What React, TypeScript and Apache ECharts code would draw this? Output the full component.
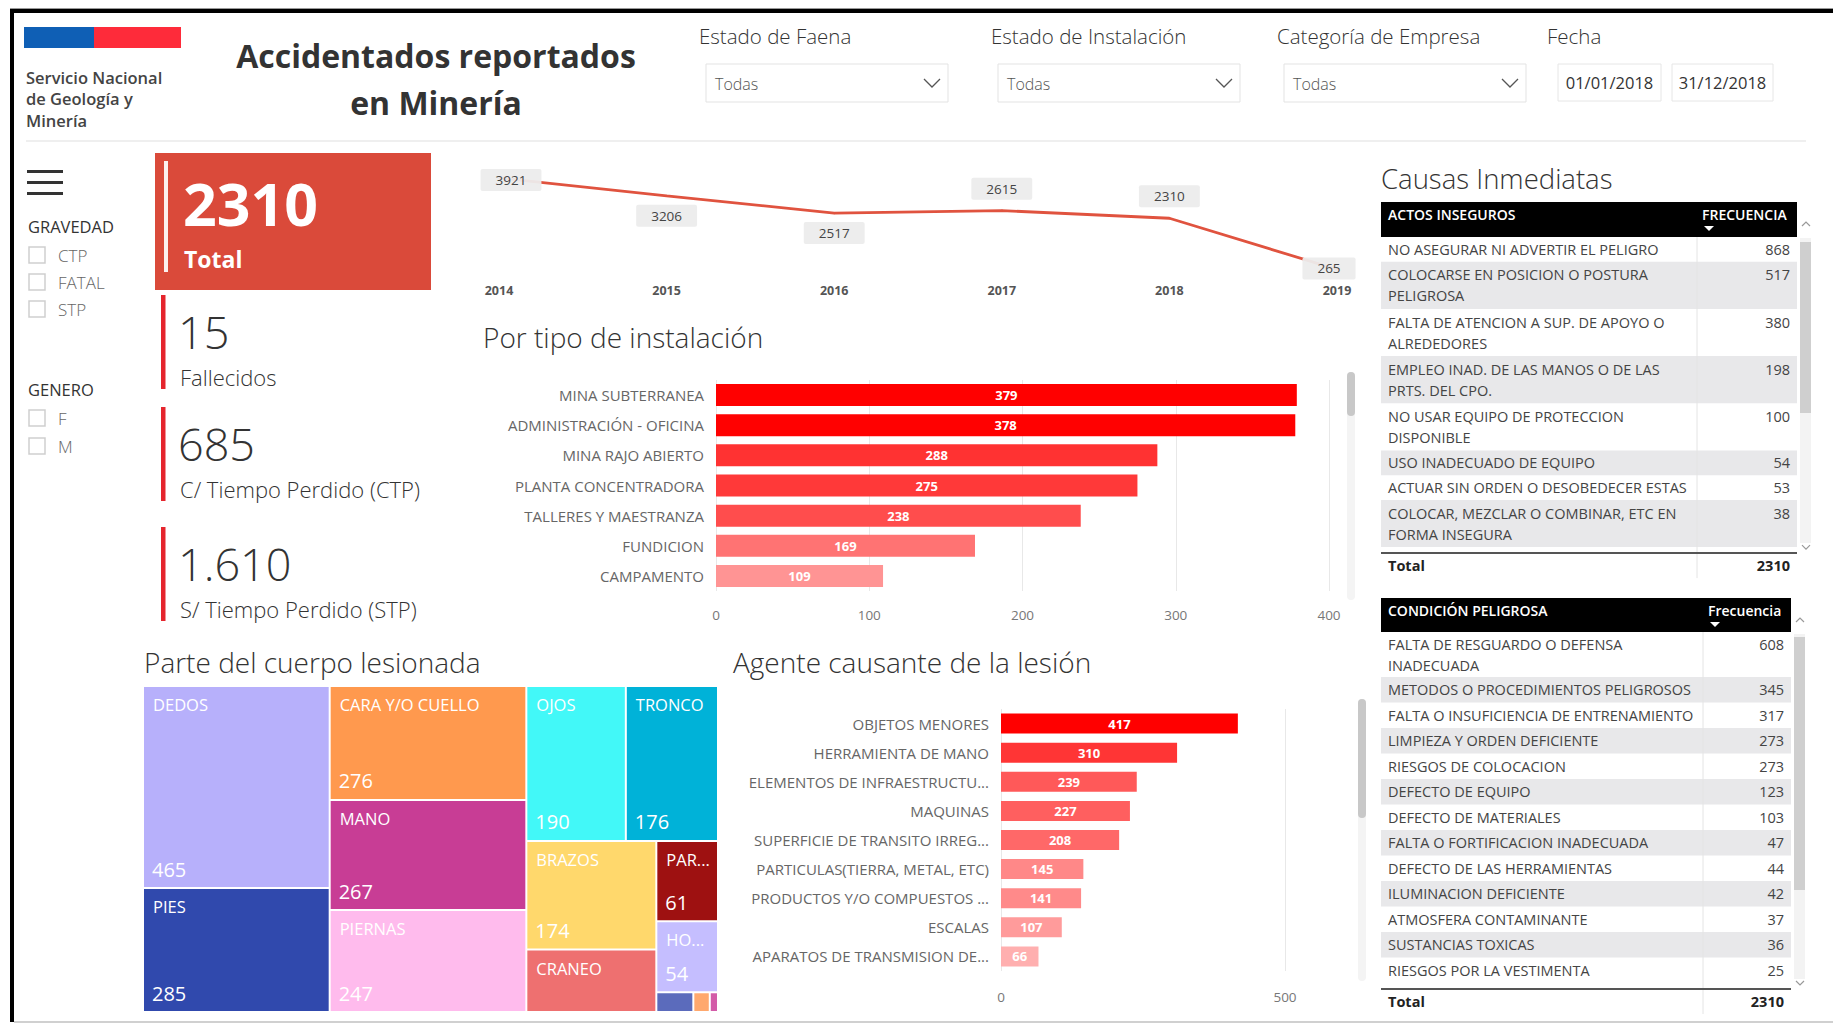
import React, { useEffect, useRef } from 'react';
import * as echarts from 'echarts';

// ---------------- DATA ----------------
const orgLines = ['Servicio Nacional', 'de Geología y', 'Minería'];
const titleLines = ['Accidentados reportados', 'en Minería'];
const filterTitles = ['Estado de Faena', 'Estado de Instalación', 'Categoría de Empresa'];
const filterValue = 'Todas';
const fechaTitle = 'Fecha';
const fechaDesde = '01/01/2018';
const fechaHasta = '31/12/2018';

const gravedadTitle = 'GRAVEDAD';
const gravedadOpts = ['CTP', 'FATAL', 'STP'];
const generoTitle = 'GENERO';
const generoOpts = ['F', 'M'];

const kpiTotal = 2310;
const kpiTotalLabel = 'Total';
const kpiValues = ['15', '685', '1.610'];
const kpiLabels = ['Fallecidos', 'C/ Tiempo Perdido (CTP)', 'S/ Tiempo Perdido (STP)'];

const years = ['2014', '2015', '2016', '2017', '2018', '2019'];
const yearTotals = [3921, 3206, 2517, 2615, 2310, 265];

const instalacionTitle = 'Por tipo de instalación';
const instalacionCats = ['MINA SUBTERRANEA', 'ADMINISTRACIÓN - OFICINA', 'MINA RAJO ABIERTO', 'PLANTA CONCENTRADORA', 'TALLERES Y MAESTRANZA', 'FUNDICION', 'CAMPAMENTO'];
const instalacionVals = [379, 378, 288, 275, 238, 169, 109];
const instalacionMax = 400;
const instalacionStep = 100;

const agenteTitle = 'Agente causante de la lesión';
const agenteCats = ['OBJETOS MENORES', 'HERRAMIENTA DE MANO', 'ELEMENTOS DE INFRAESTRUCTU...', 'MAQUINAS', 'SUPERFICIE DE TRANSITO IRREG...', 'PARTICULAS(TIERRA, METAL, ETC)', 'PRODUCTOS Y/O COMPUESTOS ...', 'ESCALAS', 'APARATOS DE TRANSMISION DE...'];
const agenteVals = [417, 310, 239, 227, 208, 145, 141, 107, 66];
const agenteMax = 500;
const agenteStep = 500;

const cuerpoTitle = 'Parte del cuerpo lesionada';
const cuerpoNames = ['DEDOS', 'PIES', 'CARA Y/O CUELLO', 'MANO', 'PIERNAS', 'OJOS', 'TRONCO', 'BRAZOS', 'CRANEO', 'PARTES MULTIPLES', 'HOMBROS', 'ABDOMEN', 'CADERA', 'CUELLO'];
const cuerpoVals = [465, 285, 276, 267, 247, 190, 176, 174, 100, 61, 54, 9, 4, 2];

const causasTitle = 'Causas Inmediatas';
const actosHeader = ['ACTOS INSEGUROS', 'FRECUENCIA'];
const actosNames = [
  'NO ASEGURAR NI ADVERTIR EL PELIGRO',
  'COLOCARSE EN POSICION O POSTURA\nPELIGROSA',
  'FALTA DE ATENCION A SUP. DE APOYO O\nALREDEDORES',
  'EMPLEO INAD. DE LAS MANOS O DE LAS\nPRTS. DEL CPO.',
  'NO USAR EQUIPO DE PROTECCION\nDISPONIBLE',
  'USO INADECUADO DE EQUIPO',
  'ACTUAR SIN ORDEN O DESOBEDECER ESTAS',
  'COLOCAR, MEZCLAR O COMBINAR, ETC EN\nFORMA INSEGURA',
];
const actosValues = [868, 517, 380, 198, 100, 54, 53, 38];

const condHeader = ['CONDICIÓN PELIGROSA', 'Frecuencia'];
const condNames = [
  'FALTA DE RESGUARDO O DEFENSA\nINADECUADA',
  'METODOS O PROCEDIMIENTOS PELIGROSOS',
  'FALTA O INSUFICIENCIA DE ENTRENAMIENTO',
  'LIMPIEZA Y ORDEN DEFICIENTE',
  'RIESGOS DE COLOCACION',
  'DEFECTO DE EQUIPO',
  'DEFECTO DE MATERIALES',
  'FALTA O FORTIFICACION INADECUADA',
  'DEFECTO DE LAS HERRAMIENTAS',
  'ILUMINACION DEFICIENTE',
  'ATMOSFERA CONTAMINANTE',
  'SUSTANCIAS TOXICAS',
  'RIESGOS POR LA VESTIMENTA',
];
const condValues = [608, 345, 317, 273, 273, 123, 103, 47, 44, 42, 37, 36, 25];
const totalLabel = 'Total';

// ---------------- STYLES ----------------
const FONT = "'Open Sans', 'Noto Sans', 'DejaVu Sans', sans-serif";
const cuerpoColors = ['#B7B0FB', '#3049AD', '#FF994E', '#C83D95', '#FFBBED', '#42F8F8', '#00B2D8', '#FFD86C', '#EE7070', '#9E1111', '#C5BEFF', '#5B6BBC', '#FFA86D', '#D35BA8'];
const lineLabelPos: any[] = [
  { position: 'inside', offset: [12, 2] },
  { position: 'bottom', distance: 8 },
  { position: 'bottom', distance: 8 },
  { position: 'top', distance: 10 },
  { position: 'top', distance: 10 },
  { position: 'inside', offset: [-8, -1] },
];

function redShade(v: number, max: number) {
  const gb = Math.round(208 * (max - v) / max);
  return `rgb(255,${gb},${gb})`;
}

function txt(x: number, y: number, text: string, o: any = {}) {
  const style: any = {
    text,
    fill: o.fill ?? '#333',
    fontSize: o.size ?? 14,
    fontFamily: o.family ?? FONT,
    fontWeight: o.weight ?? 'normal',
    align: o.align ?? 'left',
    textAlign: o.align ?? 'left',
    verticalAlign: o.va ?? 'middle',
    textVerticalAlign: o.va ?? 'middle',
  };
  if (o.lh) style.lineHeight = o.lh;
  return { type: 'text', x, y, silent: true, style };
}
function rect(x: number, y: number, w: number, h: number, fill: string, extra: any = {}) {
  return { type: 'rect', silent: true, shape: { x, y, width: w, height: h, r: extra.r ?? 0 }, style: { fill, stroke: extra.stroke ?? null, lineWidth: extra.lw ?? 0 } };
}
function line(x1: number, y1: number, x2: number, y2: number, stroke: string, lw = 1) {
  return { type: 'line', silent: true, shape: { x1, y1, x2, y2 }, style: { stroke, lineWidth: lw } };
}
function pline(points: number[][], stroke: string, lw = 1.2) {
  return { type: 'polyline', silent: true, shape: { points }, style: { stroke, lineWidth: lw, fill: null } };
}

function buildTable(cfg: any) {
  const out: any[] = [];
  const lh = 21;
  const fs = 14.5;
  out.push(rect(cfg.x, cfg.top, cfg.w, cfg.headH, '#000'));
  out.push(txt(cfg.x + 7, cfg.top + 12, cfg.h1, { fill: '#fff', size: 14, weight: 600 }));
  out.push(txt(cfg.sep + 5, cfg.top + 12, cfg.h2, { fill: '#fff', size: 14, weight: 600 }));
  const tx = cfg.sep + 12, ty = cfg.top + 26;
  out.push({ type: 'polygon', silent: true, shape: { points: [[tx - 5, ty - 2], [tx + 5, ty - 2], [tx, ty + 3]] }, style: { fill: '#fff' } });
  let y = cfg.top + cfg.headH;
  const bodyTop = y;
  cfg.names.forEach((n: string, i: number) => {
    const lines = n.split('\n').length;
    const h = lines > 1 ? cfg.double : cfg.single;
    if (i % 2 === 1) out.push(rect(cfg.x, y, cfg.w, h, '#E8E8EA'));
    const pad = (h - lines * lh) / 2;
    out.push(txt(cfg.x + 7, y + pad, n, { va: 'top', lh, size: fs, fill: '#444' }));
    out.push(txt(cfg.valRight, y + pad, String(cfg.values[i]), { va: 'top', lh, size: fs, fill: '#444', align: 'right' }));
    y += h;
  });
  const lineY = y + 5;
  out.push(line(cfg.sep, bodyTop, cfg.sep, lineY + 26, '#e4e4e4', 1));
  out.push(rect(cfg.x, lineY, cfg.w, 2, '#555'));
  out.push(txt(cfg.x + 7, lineY + 13, cfg.totalLabel, { weight: 'bold', size: fs, fill: '#222' }));
  out.push(txt(cfg.valRight, lineY + 13, String(cfg.total), { weight: 'bold', size: fs, fill: '#222', align: 'right' }));
  // scrollbar
  out.push(rect(cfg.x + cfg.w + 3, cfg.top + 36, 11, y - cfg.top - 40, '#f3f3f3'));
  out.push(rect(cfg.x + cfg.w + 3, cfg.thumbTop, 11, cfg.thumbH, '#cfcfcf'));
  const ax = cfg.x + cfg.w + 9;
  out.push(pline([[ax - 4, cfg.top + 24], [ax, cfg.top + 20], [ax + 4, cfg.top + 24]], '#999'));
  out.push(pline([[ax - 4, y - 2], [ax, y + 2], [ax + 4, y - 2]], '#999'));
  return out;
}

function buildGraphics() {
  const el: any[] = [];
  // page frame
  el.push(rect(10, 8, 1823, 1, '#999'));
  el.push(rect(10, 9, 1823, 4, '#000'));
  el.push(rect(10, 9, 4, 1013, '#000'));
  el.push(rect(14, 1021, 1819, 2, '#d0d0d0'));

  // header
  el.push(rect(24, 27, 70, 21, '#0F5FB5'));
  el.push(rect(94, 27, 87, 21, '#FE2B3A'));
  orgLines.forEach((t, i) => el.push(txt(26, 77 + i * 21.5, t, { size: 16.5, weight: 600, fill: '#444' })));
  titleLines.forEach((t, i) => el.push(txt(436, 55 + i * 47, t, { size: 32, weight: 'bold', fill: '#333', align: 'center' })));

  const fx = [699, 991, 1277];
  filterTitles.forEach((t, i) => {
    el.push(txt(fx[i], 36, t, { size: 20.5, weight: 300, fill: '#333' }));
    const bx = fx[i] + 7;
    el.push(rect(bx, 64, 242, 38, '#fff', { stroke: '#e3e3e3', lw: 1 }));
    el.push(txt(bx + 9, 84, filterValue, { size: 16, weight: 300, fill: '#555' }));
    el.push(pline([[bx + 218, 79], [bx + 226, 87], [bx + 234, 79]], '#555', 1.3));
  });
  el.push(txt(1547, 36, fechaTitle, { size: 20.5, weight: 300, fill: '#333' }));
  el.push(rect(1558, 64, 103, 37, '#fff', { stroke: '#e6e6e6', lw: 1 }));
  el.push(rect(1672, 64, 101, 37, '#fff', { stroke: '#e6e6e6', lw: 1 }));
  el.push(txt(1609.5, 82, fechaDesde, { size: 16.5, fill: '#333', align: 'center' }));
  el.push(txt(1722.5, 82, fechaHasta, { size: 16.5, fill: '#333', align: 'center' }));
  el.push(rect(26, 140, 1780, 2, '#efefef'));

  // slicers
  [170, 181, 192].forEach((y) => el.push(rect(27, y, 36, 3, '#333')));
  el.push(txt(28, 226, gravedadTitle, { size: 16.5, fill: '#333' }));
  gravedadOpts.forEach((t, i) => {
    const y = 255 + i * 27;
    el.push(rect(29, y - 8, 16, 16, '#fff', { stroke: '#cfcfcf', lw: 1.5 }));
    el.push(txt(58, y, t, { size: 17, weight: 300, fill: '#666' }));
  });
  el.push(txt(28, 389, generoTitle, { size: 16.5, fill: '#333' }));
  generoOpts.forEach((t, i) => {
    const y = 418 + i * 28;
    el.push(rect(29, y - 8, 16, 16, '#fff', { stroke: '#cfcfcf', lw: 1.5 }));
    el.push(txt(58, y, t, { size: 17, weight: 300, fill: '#666' }));
  });

  // KPI cards
  el.push(rect(155, 153, 276, 137, '#DA4A3A'));
  el.push(rect(164, 161, 4, 111, 'rgba(255,255,255,0.92)'));
  el.push(txt(183, 203, String(kpiTotal), { size: 59, weight: 'bold', fill: '#fff' }));
  el.push(txt(184, 259, kpiTotalLabel, { size: 23, weight: 'bold', fill: '#fff' }));
  const kTop = [295, 407, 527];
  kpiValues.forEach((v, i) => {
    const t = kTop[i];
    el.push(rect(161, t, 4.5, 94, '#E5252D'));
    el.push(txt(178, t + 36, v, { size: 45, weight: 300, fill: '#333' }));
    el.push(txt(180, t + 82, kpiLabels[i], { size: 22, weight: 300, fill: '#333' }));
  });

  // titles
  el.push(txt(483, 337, instalacionTitle, { size: 28, weight: 300, fill: '#333' }));
  el.push(txt(144, 662, cuerpoTitle, { size: 28, weight: 300, fill: '#333' }));
  el.push(txt(733, 662, agenteTitle, { size: 28, weight: 300, fill: '#333' }));
  el.push(txt(1381, 178, causasTitle, { size: 27.5, weight: 300, fill: '#333' }));

  // chart scrollbars
  el.push(rect(1347, 372, 8, 228, '#f4f4f4', { r: 4 }));
  el.push(rect(1347, 372, 8, 44, '#c8c8c8', { r: 4 }));
  el.push(rect(1358, 699, 8, 282, '#f4f4f4', { r: 4 }));
  el.push(rect(1358, 699, 8, 119, '#c8c8c8', { r: 4 }));

  // tables
  el.push(...buildTable({
    x: 1381, w: 416, sep: 1697, valRight: 1790, top: 202, headH: 35,
    h1: actosHeader[0], h2: actosHeader[1], names: actosNames, values: actosValues,
    single: 24.7, double: 47.2, totalLabel, total: kpiTotal, thumbTop: 242, thumbH: 171,
  }));
  el.push(...buildTable({
    x: 1381, w: 410, sep: 1703, valRight: 1784, top: 598, headH: 34,
    h1: condHeader[0], h2: condHeader[1], names: condNames, values: condValues,
    single: 25.5, double: 45, totalLabel, total: kpiTotal, thumbTop: 637, thumbH: 253,
  }));
  return el;
}

function buildOption() {
  const instMaxVal = Math.max(...instalacionVals);
  const agMaxVal = Math.max(...agenteVals);
  const catAxis = (idx: number, data: string[]) => ({
    gridIndex: idx, type: 'category', data, inverse: true,
    axisLine: { show: false }, axisTick: { show: false },
    axisLabel: { color: '#666', fontSize: 15, margin: 12, fontFamily: FONT },
  });
  const valAxis = (idx: number, max: number, interval: number, margin: number) => ({
    gridIndex: idx, type: 'value', min: 0, max, interval,
    axisLine: { show: false }, axisTick: { show: false },
    splitLine: { show: true, lineStyle: { color: '#e8e8e8', width: 1 } },
    axisLabel: { color: '#777', fontSize: 13.5, margin, fontFamily: FONT },
  });
  const barLabel = { show: true, position: 'inside', color: '#fff', fontSize: 13, fontWeight: 'bold', fontFamily: FONT };

  return {
    animation: false,
    backgroundColor: '#fff',
    textStyle: { fontFamily: FONT },
    grid: [
      { left: 499, top: 176, width: 838, height: 100 },
      { left: 716, top: 380, width: 613, height: 211 },
      { left: 1001, top: 709, width: 284, height: 262 },
    ],
    xAxis: [
      {
        gridIndex: 0, type: 'category', data: years, boundaryGap: false,
        axisLine: { show: false }, axisTick: { show: false },
        axisLabel: { color: '#555', fontWeight: 'bold', fontSize: 12.5, margin: 8, fontFamily: FONT },
      },
      valAxis(1, instalacionMax, instalacionStep, 17),
      valAxis(2, agenteMax, agenteStep, 19),
    ],
    yAxis: [
      { gridIndex: 0, type: 'value', min: 0, max: 4000, show: false },
      catAxis(1, instalacionCats),
      catAxis(2, agenteCats),
    ],
    series: [
      {
        type: 'line', xAxisIndex: 0, yAxisIndex: 0,
        data: yearTotals.map((v, i) => ({ value: v, label: lineLabelPos[i] })),
        symbol: 'circle', symbolSize: 2,
        lineStyle: { color: '#E0533F', width: 2.8 },
        itemStyle: { color: '#E0533F' },
        label: { show: true, color: '#444', fontSize: 13.5, fontFamily: FONT, backgroundColor: 'rgba(236,236,236,0.95)', padding: [4, 15], borderRadius: 2 },
        z: 3,
      },
      {
        type: 'bar', xAxisIndex: 1, yAxisIndex: 1, barWidth: 22,
        data: instalacionVals.map((v) => ({ value: v, itemStyle: { color: redShade(v, instMaxVal) } })),
        label: barLabel,
      },
      {
        type: 'bar', xAxisIndex: 2, yAxisIndex: 2, barWidth: 20,
        data: agenteVals.map((v) => ({ value: v, itemStyle: { color: redShade(v, agMaxVal) } })),
        label: barLabel,
      },
      {
        type: 'treemap', left: 144, top: 687, width: 573, height: 324,
        roam: false, nodeClick: false, silent: true,
        breadcrumb: { show: false },
        levels: [{ itemStyle: { borderColor: '#fff', borderWidth: 0, gapWidth: 2 } }],
        itemStyle: { borderWidth: 0 },
        upperLabel: { show: false },
        label: { show: true, position: 'insideTopLeft', distance: 4, color: '#fff', fontSize: 16.5, fontFamily: FONT, formatter: '{b}' },
        data: cuerpoNames.map((n, i) => ({
          name: n, value: cuerpoVals[i],
          itemStyle: { color: cuerpoColors[i] },
          label: { show: cuerpoVals[i] >= 20 },
        })),
      },
      {
        type: 'treemap', left: 144, top: 687, width: 573, height: 324,
        roam: false, nodeClick: false, silent: true,
        breadcrumb: { show: false },
        levels: [{ itemStyle: { borderColor: 'rgba(0,0,0,0)', borderWidth: 0, gapWidth: 2 } }],
        itemStyle: { borderWidth: 0, color: 'rgba(0,0,0,0)' },
        upperLabel: { show: false },
        label: { show: true, position: 'insideBottomLeft', distance: 3, color: '#fff', fontSize: 20, fontFamily: FONT, formatter: '{c}' },
        data: cuerpoNames.map((n, i) => ({
          name: n, value: cuerpoVals[i],
          itemStyle: { color: 'rgba(0,0,0,0)' },
          label: { show: cuerpoVals[i] >= 20 && n !== 'CRANEO' },
        })),
      },
    ],
    graphic: { elements: buildGraphics() },
  };
}

export default function App() {
  const ref = useRef<HTMLDivElement>(null);
  useEffect(() => {
    document.body.style.margin = '0';
    if (!ref.current) return;
    const chart = echarts.init(ref.current, undefined, { renderer: 'svg' });
    chart.setOption(buildOption() as any);
    return () => chart.dispose();
  }, []);
  return <div ref={ref} style={{ width: 1833, height: 1025, background: '#fff' }} />;
}
